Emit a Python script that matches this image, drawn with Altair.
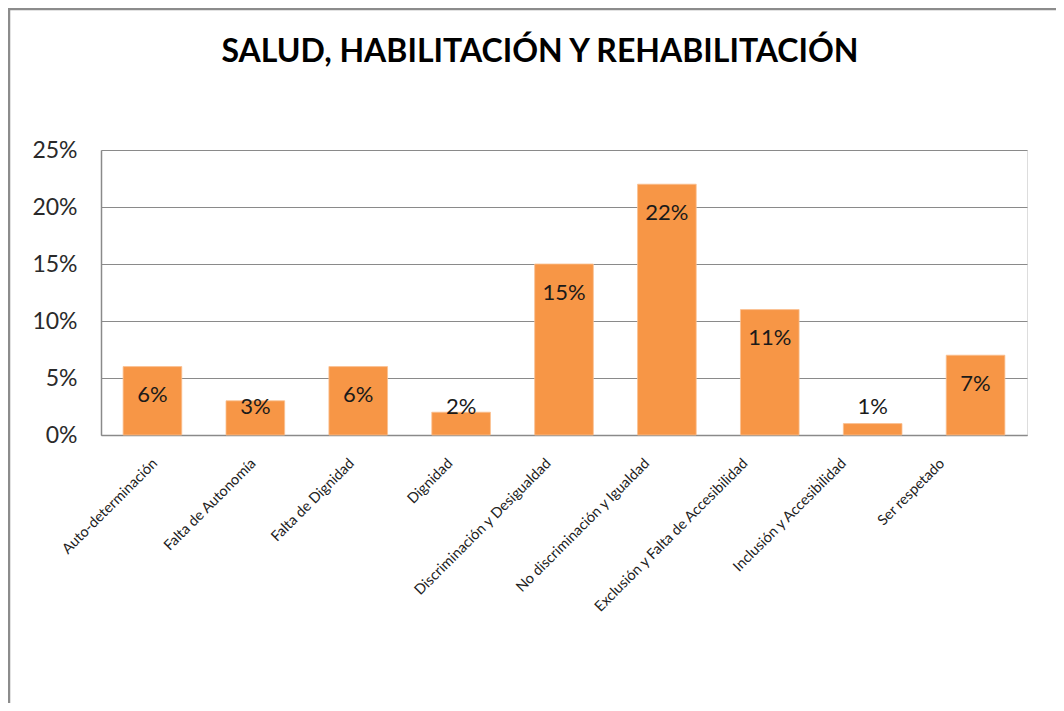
import altair as alt
import pandas as pd

categories = [
    "Auto-determinación",
    "Falta de Autonomía",
    "Falta de Dignidad",
    "Dignidad",
    "Discriminación y Desigualdad",
    "No discriminación  y Igualdad",
    "Exclusión y Falta de Accesibilidad",
    "Inclusión y Accesibilidad",
    "Ser respetado",
]
values = [0.06, 0.03, 0.06, 0.02, 0.15, 0.22, 0.11, 0.01, 0.07]
y_ticks = [0, 0.05, 0.10, 0.15, 0.20, 0.25]

df = pd.DataFrame({"cat": categories, "v": values})

FONT = "Lato"
W, H = 926, 285
PL, PT = 93, 142

x = alt.X(
    "cat:N",
    sort=categories,
    title=None,
    scale=alt.Scale(paddingInner=0.43, paddingOuter=0.215),
    axis=alt.Axis(
        labelAngle=-45,
        labelAlign="right",
        labelBaseline="middle",
        labelFontSize=14.5,
        labelFont=FONT,
        labelColor="#222222",
        labelPadding=26,
        labelOffset=alt.ExprRef("3 - 36 * datum.index"),
        labelLimit=400,
        ticks=False,
        domainColor="#8a8a8a",
        domainWidth=1.5,
    ),
)

y = alt.Y(
    "v:Q",
    title=None,
    scale=alt.Scale(domain=[0, 0.25], nice=False),
    axis=alt.Axis(
        values=y_ticks,
        format=".0%",
        labelFontSize=23,
        labelFont=FONT,
        labelColor="#2a2a2a",
        labelPadding=24,
        ticks=False,
        grid=True,
        gridColor="#8a8a8a",
        gridWidth=1.2,
        domainColor="#8a8a8a",
        domainWidth=1.5,
    ),
)

base = alt.Chart(df)

bars = base.mark_bar(color="#F79646", stroke="#FAC090", strokeWidth=0.8).encode(x=x, y=y)

labels = (
    base.transform_calculate(
        ly="max(datum.v - 0.025, 0.025)",
        txt="format(datum.v, '.0%')",
    )
    .mark_text(font=FONT, fontSize=22, color="#1a1a1a", baseline="middle", align="center")
    .encode(
        x=alt.X("cat:N", sort=categories),
        y=alt.Y("ly:Q"),
        text="txt:N",
    )
)

one = alt.Chart(pd.DataFrame({"a": [0]}))
left_border = one.mark_rule(color="#8c8c8c", strokeWidth=2.5).encode(
    x=alt.value(-PL + 1), y=alt.value(-PT), y2=alt.value(560)
)
top_border = one.mark_rule(color="#8c8c8c", strokeWidth=2.5).encode(
    x=alt.value(-PL), x2=alt.value(W + 40), y=alt.value(-PT + 1)
)

chart = (
    alt.layer(bars, labels, left_border, top_border)
    .properties(
        width=W,
        height=H,
        padding={"left": PL, "top": PT, "right": 29, "bottom": 268},
        autosize=alt.AutoSizeParams(type="none"),
        title=alt.TitleParams(
            "SALUD, HABILITACIÓN Y REHABILITACIÓN",
            font=FONT,
            fontSize=32,
            fontWeight="bold",
            color="#000000",
            anchor="middle",
            dx=-24,
            offset=-94,
            baseline="bottom",
        ),
    )
    .configure_view(stroke=None)
    .configure(background="white")
)

chart.save("out.html", embed_options={"renderer": "svg", "actions": False})
